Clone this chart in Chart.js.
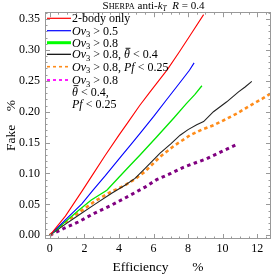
<!DOCTYPE html>
<html><head><meta charset="utf-8">
<script src="https://cdn.jsdelivr.net/npm/chart.js@4"></script>
<style>html,body{margin:0;padding:0;background:#fff;}canvas{display:block;}</style>
</head><body>
<canvas id="c" width="274" height="278"></canvas>
<script>
// ---- data (efficiency %, fake %) ----
const redEff    = [0,0.9,1.9,2.5,3.2,4.0,4.5,5.2,5.8,6.8,7.5,8.2,8.9];
const redFake   = [0,0.031,0.073,0.099,0.129,0.162,0.182,0.21,0.232,0.268,0.297,0.327,0.357];
const blueEff   = [0,0.9,1.85,2.5,3.2,4.16,4.7,5.22,6.0,6.8,7.5,8.08,8.35];
const blueFake  = [0,0.025,0.051,0.073,0.096,0.129,0.147,0.165,0.192,0.221,0.246,0.267,0.279];
const greenEff  = [0,0.9,1.6,2.4,3.3,4.0,4.64,5.22,6.18,7.15,7.9,8.4,8.8];
const greenFake = [0,0.022,0.039,0.057,0.073,0.094,0.113,0.13,0.159,0.189,0.213,0.228,0.242];
const blackEff  = [0,0.8,1.64,2.6,3.58,4.35,4.93,5.5,6.38,7.0,7.54,8.0,8.5,8.9,9.47,10.24,10.92,11.3,11.69];
const blackFake = [0,0.016,0.032,0.05,0.068,0.081,0.092,0.108,0.133,0.148,0.162,0.171,0.179,0.184,0.2,0.216,0.232,0.24,0.249];
const orangeEff = [0,0.8,1.64,2.6,3.58,4.35,4.93,5.5,6.38,7.2,8.12,8.8,9.47,10.2,10.82,11.3,11.79,12.3,12.75];
const orangeFake= [0,0.019,0.036,0.055,0.071,0.081,0.091,0.103,0.127,0.145,0.162,0.171,0.178,0.188,0.197,0.205,0.213,0.221,0.229];
const purpleEff = [0,0.8,1.64,2.6,3.58,4.6,5.51,6.18,7.0,7.73,8.4,9.08,9.9,10.82];
const purpleFake= [0,0.011,0.0215,0.036,0.049,0.064,0.078,0.09,0.1,0.11,0.117,0.124,0.135,0.147];

const xTicks = [0,2,4,6,8,10,12];
const yTicks = [0,0.05,0.10,0.15,0.20,0.25,0.30,0.35];

const SERIF = '"Liberation Serif", "DejaVu Serif", serif';
const pts = (xs, ys) => xs.map((x,i)=>({x, y: ys[i]}));

function font(seg){ return (seg.i?'italic ':'') + (seg.s||12) + 'px ' + SERIF; }
function richWidth(ctx, segs){ let w=0; for(const s of segs){ ctx.font=font(s); w+=ctx.measureText(s.t).width; } return w; }
function drawRich(ctx, x, y, segs){
  for(const s of segs){
    ctx.font=font(s); ctx.fillText(s.t, x, y+(s.dy||0));
    const w=ctx.measureText(s.t).width;
    if(s.bar){ ctx.fillRect(x+1.5, y-10.5, w-1, 0.9); }
    x+=w;
  }
  return x;
}
const OV = [{t:'Ov',i:1},{t:'3',s:8.5,dy:2.5}];
const TH = [{t:'\u03B8',i:1,bar:true}];
const PF = [{t:'Pf',i:1}];
const legendRows = [
  {color:'#ff0000', w:1.2, dash:[], segs:[{t:'2-body only'}]},
  {color:'#0000ff', w:1.2, dash:[], segs:[...OV,{t:' > 0.5'}]},
  {color:'#00ff00', w:3, dash:[], segs:[...OV,{t:' > 0.8'}]},
  {color:'#000000', w:1.2, dash:[], segs:[...OV,{t:' > 0.8, '},...TH,{t:' < 0.4'}]},
  {color:'#ff8c1a', w:1.6, dash:[3,3], segs:[...OV,{t:' > 0.8, '},...PF,{t:' < 0.25'}]},
  {color:'#ff00ff', w:1.8, dash:[3,3], segs:[...OV,{t:' > 0.8'}]},
  {color:null, segs:[...TH,{t:' < 0.4,'}]},
  {color:null, segs:[...PF,{t:' < 0.25'}]}
];
const rowY = [18.3,30.7,42.7,54.3,66.7,80,91.7,103.7];

const deco = {
  id:'deco',
  afterDraw(chart){
    const ctx = chart.ctx, a = chart.chartArea, xs = chart.scales.x, ys = chart.scales.y;
    ctx.save();
    // frame
    ctx.strokeStyle = '#999999'; ctx.lineWidth = 1; ctx.setLineDash([]);
    ctx.strokeRect(Math.round(a.left)+0.5, Math.round(a.top)+0.5, Math.round(a.right-a.left)-1, Math.round(a.bottom-a.top)-1);
    // ticks
    ctx.beginPath();
    for(let k=0;k<=25;k++){
      const v=k*0.5; const px=Math.round(xs.getPixelForValue(v))+0.5;
      const len = (k%4===0)?5:2.5;
      ctx.moveTo(px,a.bottom); ctx.lineTo(px,a.bottom-len);
      ctx.moveTo(px,a.top); ctx.lineTo(px,a.top+len);
    }
    for(let k=0;k<=36;k++){
      const v=k*0.01; const py=Math.round(ys.getPixelForValue(v))+0.5;
      const len = (k%5===0)?5:2.5;
      ctx.moveTo(a.left,py); ctx.lineTo(a.left+len,py);
      ctx.moveTo(a.right,py); ctx.lineTo(a.right-len,py);
    }
    ctx.stroke();
    // title
    ctx.fillStyle='#000'; ctx.textBaseline='alphabetic'; ctx.textAlign='left';
    const tsegs=[{t:'S',s:11},{t:'HERPA',s:8.2},{t:' anti-',s:11},{t:'k',s:11,i:1},{t:'T',s:7.5,i:1,dy:2},{t:'  ',s:11},{t:'R',s:11,i:1},{t:' = 0.4',s:11}];
    const tw=richWidth(ctx,tsegs);
    drawRich(ctx, 153.5 - tw/2, 8.5, tsegs);
    // legend
    legendRows.forEach((r,i)=>{
      const y=rowY[i];
      if(r.color){
        ctx.beginPath(); ctx.strokeStyle=r.color; ctx.lineWidth=r.w; ctx.setLineDash(r.dash);
        ctx.moveTo(47,y); ctx.lineTo(71,y); ctx.stroke(); ctx.setLineDash([]);
      }
      ctx.fillStyle='#000';
      drawRich(ctx, 72, y+4, r.segs);
    });
    ctx.restore();
  }
};

const mk = (label, xs, ys, color, width, dash) => ({
  label, data: pts(xs, ys), borderColor: color, borderWidth: width, borderDash: dash,
  pointRadius: 0, fill: false, tension: 0, borderCapStyle: 'butt'
});

new Chart(document.getElementById('c'), {
  type: 'line',
  data: { datasets: [
    mk('2-body only', redEff, redFake, '#ff0000', 1.1, []),
    mk('Ov3 > 0.5', blueEff, blueFake, '#0000ff', 1.1, []),
    mk('Ov3 > 0.8', greenEff, greenFake, '#00e600', 1.3, []),
    mk('Ov3 > 0.8, θ < 0.4', blackEff, blackFake, '#222222', 1.1, []),
    mk('Ov3 > 0.8, Pf < 0.25', orangeEff, orangeFake, '#ff8c1a', 2.6, [3.5,3]),
    mk('Ov3 > 0.8, θ < 0.4, Pf < 0.25', purpleEff, purpleFake, '#800080', 3, [3.5,3.5])
  ]},
  options: {
    responsive: false, animation: false, devicePixelRatio: 1,
    layout: { padding: { top: 12, right: 3, left: 0, bottom: 0 } },
    plugins: { legend: { display: false }, tooltip: { enabled: false }, title: { display: false } },
    scales: {
      x: {
        type: 'linear', min: -0.28, max: 12.8,
        afterBuildTicks: s => { s.ticks = xTicks.map(v => ({value: v})); },
        afterFit: s => { s.height = 39; },
        grid: { display: false, drawTicks: false }, border: { display: false },
        ticks: { color: '#000', font: { family: SERIF, size: 12 }, padding: 3, maxRotation: 0, callback: v => String(v) },
        title: { display: true, text: 'Efficiency       %', color: '#000', font: { family: SERIF, size: 13.5 }, padding: { top: 0, bottom: 2 } }
      },
      y: {
        type: 'linear', min: -0.006, max: 0.361,
        afterBuildTicks: s => { s.ticks = yTicks.map(v => ({value: v})); },
        afterFit: s => { s.width = 45; },
        grid: { display: false, drawTicks: false }, border: { display: false },
        ticks: { color: '#000', font: { family: SERIF, size: 12 }, padding: 5, callback: v => v.toFixed(2) },
        title: { display: true, text: 'Fake    %', color: '#000', font: { family: SERIF, size: 13.5 }, padding: { top: 3, bottom: 0 } }
      }
    }
  },
  plugins: [deco]
});
</script>
</body></html>
